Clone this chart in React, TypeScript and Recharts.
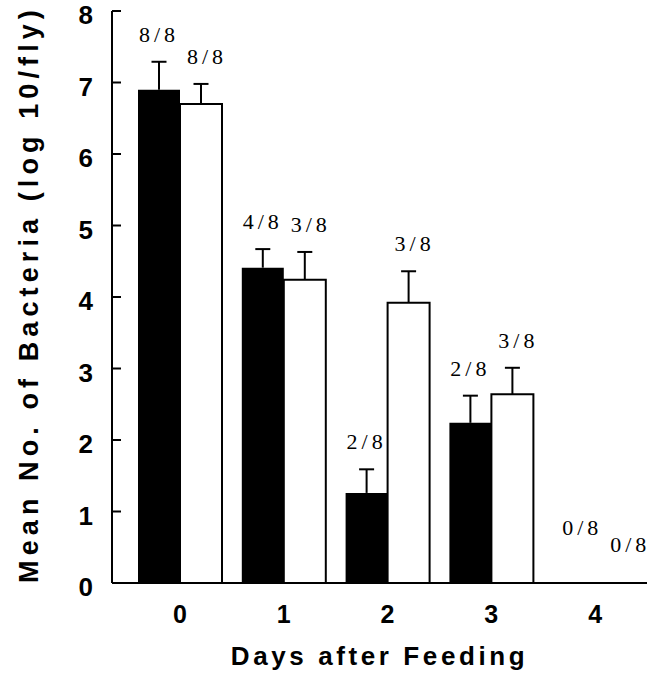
import { BarChart, Bar, XAxis, YAxis, LabelList } from 'recharts'

const days = ['0', '1', '2', '3', '4']
const blackMeans = [6.9, 4.41, 1.26, 2.24, 0]
const blackErrors = [0.39, 0.26, 0.33, 0.38, 0]
const whiteMeans = [6.7, 4.24, 3.92, 2.64, 0]
const whiteErrors = [0.28, 0.39, 0.44, 0.37, 0]
const blackPositive = ['8/8', '4/8', '2/8', '2/8', '0/8']
const whitePositive = ['8/8', '3/8', '3/8', '3/8', '0/8']
const yTicks = [0, 1, 2, 3, 4, 5, 6, 7, 8]

const data = days.map((day, i) => ({
  day,
  black: blackMeans[i],
  blackErr: blackErrors[i],
  blackLabel: blackPositive[i],
  white: whiteMeans[i],
  whiteErr: whiteErrors[i],
  whiteLabel: whitePositive[i],
}))

const sans = '"Liberation Sans", Arial, Helvetica, sans-serif'
const serif = '"Liberation Serif", "Times New Roman", serif'

// whisker drawn on top of each bar, using the stacked error segment
const Whisker = (props: any) => {
  const { x, y, width, height } = props
  if (!height || height <= 0) return <g />
  const cx = x + width / 2
  return (
    <g>
      <line x1={cx} x2={cx} y1={y + height} y2={y} stroke="#000" strokeWidth={2} />
      <line x1={cx - 7.5} x2={cx + 7.5} y1={y} y2={y} stroke="#000" strokeWidth={2} />
    </g>
  )
}

// n/8 counts; empty bars get their label lifted so the pair does not collide
const Fraction = (props: any) => {
  const { x, y, width, height, value, shift = 0, emptyLift = 20 } = props
  const lift = height > 0 ? 20 : emptyLift
  return (
    <text
      x={x + width / 2 + shift + (height > 0 ? 0 : 8)}
      y={y - lift}
      textAnchor="middle"
      fontFamily={serif}
      fontSize={22}
      letterSpacing={4}
      fill="#000"
    >
      {value}
    </text>
  )
}

const YTick = (props: any) => {
  const { x, y, payload } = props
  return (
    <g>
      <line x1={x + 19} x2={x + 28} y1={y} y2={y} stroke="#000" strokeWidth={2} />
      <text x={x} y={y + 4} dy="0.36em" textAnchor="end" fontFamily={sans} fontWeight="bold" fontSize={26} fill="#000">
        {payload.value}
      </text>
    </g>
  )
}

export default function App() {
  return (
    <div style={{ position: 'absolute', left: 0, top: 0, width: 658, height: 679, background: '#fff' }}>
      <BarChart
        width={658}
        height={679}
        data={data}
        margin={{ top: 11, right: 11, left: 0, bottom: 0 }}
        barGap={0}
        barSize={42}
      >
        <XAxis
          dataKey="day"
          height={96}
          padding={{ left: 16, right: 0 }}
          axisLine={{ stroke: '#000', strokeWidth: 2 }}
          tickLine={false}
          tickSize={0}
          tickMargin={22}
          tick={{ fill: '#000', fontFamily: sans, fontWeight: 'bold', fontSize: 25 }}
          label={{
            content: (p: any) => (
              <text
                x={p.viewBox.x + p.viewBox.width / 2}
                y={p.viewBox.y + 82}
                textAnchor="middle"
                fontFamily={sans}
                fontWeight="bold"
                fontSize={26}
                letterSpacing={3.6}
                fill="#000"
              >
                Days after Feeding
              </text>
            ),
          }}
        />
        <YAxis
          width={112}
          domain={[0, 8]}
          ticks={yTicks}
          interval={0}
          axisLine={{ stroke: '#000', strokeWidth: 2 }}
          tickLine={false}
          tickSize={0}
          tickMargin={19}
          tick={<YTick />}
          label={{
            content: (p: any) => {
              const cy = p.viewBox.y + p.viewBox.height / 2 - 3
              return (
                <text
                  x={38}
                  y={cy}
                  transform={`rotate(-90, 38, ${cy})`}
                  textAnchor="middle"
                  fontFamily={sans}
                  fontWeight="bold"
                  fontSize={27}
                  letterSpacing={5.1}
                  fill="#000"
                >
                  Mean No. of Bacteria (log 10/fly)
                </text>
              )
            },
          }}
        />
        <Bar dataKey="black" stackId="black" fill="#000" isAnimationActive={false} />
        <Bar dataKey="blackErr" stackId="black" shape={<Whisker />} isAnimationActive={false}>
          <LabelList dataKey="blackLabel" content={<Fraction shift={0} emptyLift={48} />} />
        </Bar>
        <Bar dataKey="white" stackId="white" fill="#fff" stroke="#000" strokeWidth={2} isAnimationActive={false} />
        <Bar dataKey="whiteErr" stackId="white" shape={<Whisker />} isAnimationActive={false}>
          <LabelList dataKey="whiteLabel" content={<Fraction shift={6} emptyLift={31} />} />
        </Bar>
      </BarChart>
    </div>
  )
}
